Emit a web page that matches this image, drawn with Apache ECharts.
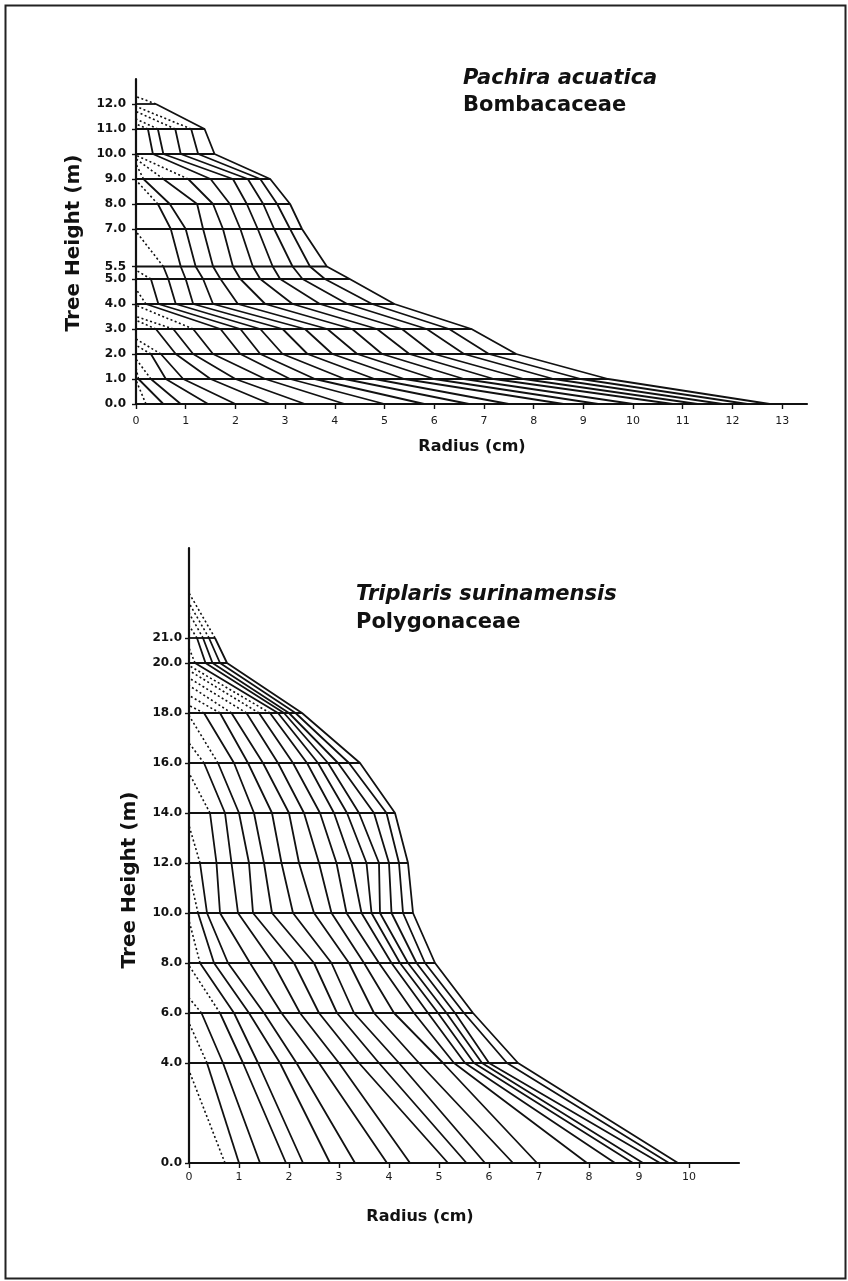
<!DOCTYPE html>
<html>
<head>
<meta charset="utf-8">
<script src="https://cdn.jsdelivr.net/npm/echarts@6/dist/echarts.min.js"></script>
<style>
  html, body { margin: 0; padding: 0; background: #fff; }
  #chart { width: 848px; height: 1281px; }
</style>
</head>
<body>
<div id="chart"></div>
<script>
// Pachira acuatica: disk heights (m), tip height per year (m), ring radii per disk (cm, pith -> bark)
const pachiraHeights = [0, 1, 2, 3, 4, 5, 5.5, 7, 8, 9, 10, 11, 12];
const pachiraTips = [0.95, 1.45, 1.8, 2.35, 2.6, 3.35, 3.5, 3.95, 4.6, 5.35, 6.9, 8.95,
  9.6, 9.8, 9.95, 11.2, 11.4, 11.7, 11.9, 12.3];
const pachiraRings = [
  [0.2, 0.55, 0.9, 1.45, 2.0, 2.7, 3.4, 4.2, 5.0, 5.8, 6.7, 7.5, 8.6, 9.3, 10.0, 10.8, 11.3, 11.8, 12.3, 12.75],
  [0.05, 0.3, 0.6, 0.95, 1.5, 2.0, 2.6, 3.1, 3.6, 4.2, 4.8, 5.4, 6.0, 6.6, 7.2, 7.8, 8.4, 8.95, 9.5],
  [0.3, 0.5, 0.8, 1.15, 1.55, 2.1, 2.5, 2.95, 3.45, 3.95, 4.45, 4.95, 5.5, 6.0, 6.6, 7.1, 7.65],
  [0.4, 0.75, 1.15, 1.7, 2.1, 2.5, 2.95, 3.4, 3.85, 4.35, 4.85, 5.35, 5.85, 6.3, 6.75],
  [0.2, 0.45, 0.8, 1.15, 1.55, 2.05, 2.6, 3.15, 3.7, 4.25, 4.75, 5.2],
  [0.3, 0.65, 1.0, 1.35, 1.7, 2.1, 2.5, 2.9, 3.35, 3.8, 4.3],
  [0.55, 0.9, 1.2, 1.55, 1.95, 2.35, 2.75, 3.15, 3.5, 3.84],
  [0.7, 1.0, 1.35, 1.75, 2.1, 2.45, 2.78, 3.1, 3.34],
  [0.44, 0.68, 1.23, 1.55, 1.89, 2.23, 2.56, 2.84, 3.1],
  [0.15, 0.55, 1.05, 1.5, 1.95, 2.25, 2.5, 2.7],
  [0.34, 0.55, 0.9, 1.25, 1.58],
  [0.24, 0.44, 0.79, 1.11, 1.38],
  [0.4]
];
const pachiraXTicks = [0, 1, 2, 3, 4, 5, 6, 7, 8, 9, 10, 11, 12, 13];

// Triplaris surinamensis
const triplarisHeights = [0, 4, 6, 8, 10, 12, 14, 16, 18, 20, 21];
const triplarisTips = [3.7, 5.6, 6.6, 7.9, 9.7, 11.6, 13.5, 15.6, 16.8, 17.9, 18.3,
  18.7, 19.1, 19.4, 19.7, 19.9, 20.6, 21.5, 22.0, 22.4, 22.8];
const triplarisRings = [
  [0.72, 1.0, 1.42, 1.94, 2.28, 2.82, 3.32, 3.96, 4.42, 5.18, 5.55, 5.92, 6.48, 6.96, 7.96, 8.52, 8.88, 9.08, 9.42, 9.6, 9.78],
  [0.36, 0.68, 1.08, 1.38, 1.82, 2.15, 2.6, 3.0, 3.4, 3.8, 4.2, 4.6, 5.08, 5.3, 5.52, 5.7, 5.86, 6.0, 6.36, 6.58],
  [0.25, 0.62, 0.9, 1.2, 1.5, 1.85, 2.22, 2.6, 2.96, 3.3, 3.7, 4.1, 4.5, 4.78, 4.98, 5.15, 5.32, 5.5, 5.68],
  [0.22, 0.5, 0.78, 1.22, 1.68, 2.1, 2.5, 2.85, 3.2, 3.5, 3.8, 4.05, 4.22, 4.38, 4.55, 4.72, 4.92],
  [0.18, 0.36, 0.62, 0.98, 1.28, 1.66, 2.08, 2.5, 2.85, 3.15, 3.45, 3.65, 3.82, 4.05, 4.28, 4.48],
  [0.22, 0.55, 0.85, 1.2, 1.5, 1.85, 2.2, 2.6, 2.95, 3.25, 3.55, 3.8, 4.0, 4.2, 4.38],
  [0.42, 0.72, 1.0, 1.3, 1.66, 2.0, 2.3, 2.62, 2.9, 3.16, 3.4, 3.7, 3.95, 4.12],
  [0.3, 0.58, 0.9, 1.18, 1.48, 1.78, 2.08, 2.36, 2.58, 2.78, 2.98, 3.2, 3.42],
  [0.3, 0.62, 0.85, 1.15, 1.4, 1.62, 1.78, 1.9, 2.0, 2.13, 2.26],
  [0.12, 0.33, 0.47, 0.62, 0.76],
  [0.16, 0.28, 0.4, 0.52]
];
const triplarisXTicks = [0, 1, 2, 3, 4, 5, 6, 7, 8, 9, 10];

const FONT = '"DejaVu Sans", Verdana, sans-serif';
const INK = '#111';

function seg(axisIdx, data, dotted) {
  return {
    type: 'line',
    xAxisIndex: axisIdx,
    yAxisIndex: axisIdx,
    data: data,
    symbol: 'none',
    silent: true,
    animation: false,
    lineStyle: { color: INK, width: dotted ? 1.6 : 1.8, type: dotted ? [2, 2.5] : 'solid' }
  };
}

// disk lines + one growth profile per year, dotted up to that year's tip
function stemSeries(axisIdx, heights, rings, tips) {
  const out = [];
  const n = tips.length;
  heights.forEach((h, i) => {
    const r = rings[i];
    out.push(seg(axisIdx, [[0, h], [r[r.length - 1], h]], false));
  });
  for (let k = 0; k < n; k++) {
    const pts = [];
    heights.forEach((h, i) => {
      const r = rings[i];
      const j = k - (n - r.length);
      if (j >= 0) pts.push([r[j], h]);
    });
    if (pts.length > 1) out.push(seg(axisIdx, pts, false));
    out.push(seg(axisIdx, [pts[pts.length - 1], [0, tips[k]]], true));
  }
  return out;
}

function xAxis(idx, max, ticks, margin) {
  return {
    type: 'value', gridIndex: idx, min: 0, max: max,
    axisLine: { lineStyle: { color: INK, width: 2.2 } },
    axisTick: { customValues: ticks, length: 5, lineStyle: { color: INK, width: 1.4 } },
    axisLabel: { customValues: ticks, color: '#1a1a1a', fontSize: 11, fontFamily: FONT, margin: margin },
    splitLine: { show: false }
  };
}

function yAxis(idx, max, heights, margin) {
  return {
    type: 'value', gridIndex: idx, min: 0, max: max,
    axisLine: { lineStyle: { color: INK, width: 2.2 } },
    axisTick: { customValues: heights, length: 4, lineStyle: { color: INK, width: 1.4 } },
    axisLabel: {
      customValues: heights, color: INK, fontSize: 12, fontWeight: 'bold', fontFamily: FONT, margin: margin,
      formatter: v => v.toFixed(1)
    },
    splitLine: { show: false }
  };
}

function txt(x, y, text, font, align, rotation) {
  return {
    type: 'text', x: x, y: y, rotation: rotation || 0,
    style: { text: text, fill: INK, font: font + ' ' + FONT, align: align || 'left', verticalAlign: 'middle' }
  };
}

const chart = echarts.init(document.getElementById('chart'), null, { renderer: 'canvas' });

chart.setOption({
  backgroundColor: '#fff',
  animation: false,
  grid: [
    { left: 136, right: 41, top: 79, bottom: 877 },
    { left: 189, right: 109, top: 548, bottom: 118 }
  ],
  xAxis: [xAxis(0, 13.5, pachiraXTicks, 12), xAxis(1, 11, triplarisXTicks, 9)],
  yAxis: [yAxis(0, 13, pachiraHeights, 10), yAxis(1, 24.6, triplarisHeights, 7)],
  series: [
    ...stemSeries(0, pachiraHeights, pachiraRings, pachiraTips),
    ...stemSeries(1, triplarisHeights, triplarisRings, triplarisTips)
  ],
  graphic: [
    { type: 'rect', left: 3, top: 3, shape: { width: 840, height: 1273 },
      style: { fill: 'none', stroke: '#222', lineWidth: 2 } },
    txt(463, 79, 'Pachira acuatica', 'italic bold 21px'),
    txt(463, 106, 'Bombacaceae', 'bold 21px'),
    txt(356, 595, 'Triplaris surinamensis', 'italic bold 21px'),
    txt(356, 623, 'Polygonaceae', 'bold 21px'),
    txt(74, 243, 'Tree Height (m)', 'bold 20px', 'center', Math.PI / 2),
    txt(130, 880, 'Tree Height (m)', 'bold 20px', 'center', Math.PI / 2),
    txt(472, 447, 'Radius (cm)', 'bold 16px', 'center'),
    txt(420, 1217, 'Radius (cm)', 'bold 16px', 'center')
  ]
});
</script>
</body>
</html>
